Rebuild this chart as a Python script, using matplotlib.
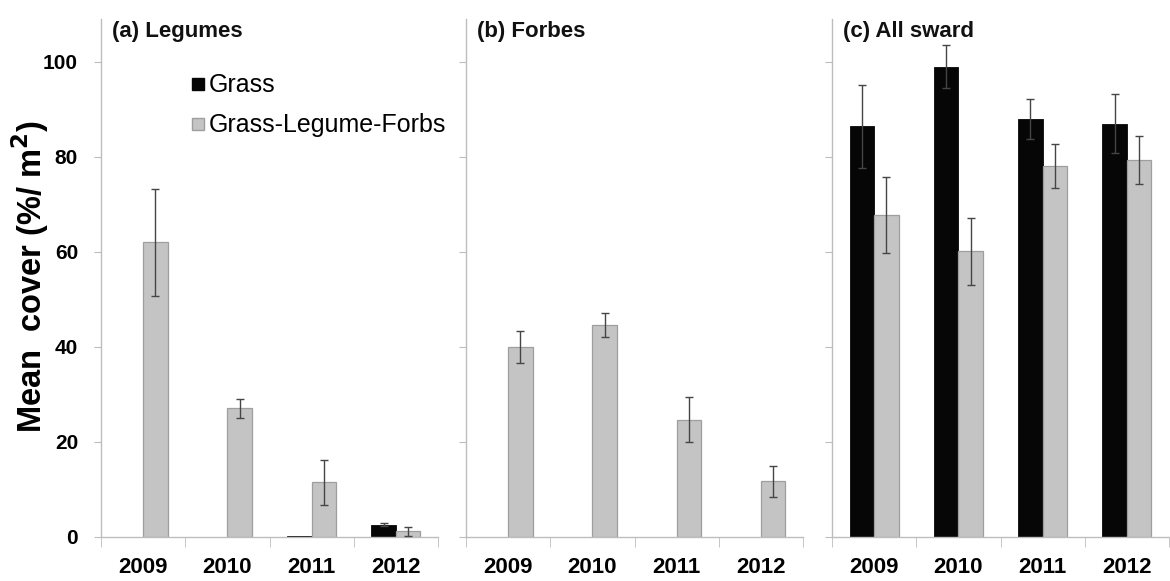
import matplotlib
matplotlib.use("Agg")
import matplotlib.pyplot as plt
from matplotlib.lines import Line2D
import numpy as np

plt.rcParams['font.family'] = ['Liberation Sans', 'DejaVu Sans']

years = ["2009", "2010", "2011", "2012"]
panel_titles = ["(a) Legumes", "(b) Forbes", "(c) All sward"]
series_names = ["Grass", "Grass-Legume-Forbs"]

# Legumes cover
legumes_grass = [0.0, 0.0, 0.3, 2.6]
legumes_grass_se = [0.0, 0.0, 0.0, 0.3]
legumes_mix = [62.0, 27.1, 11.5, 1.2]
legumes_mix_se = [11.3, 2.0, 4.8, 1.0]

# Forbs cover
forbs_grass = [0.0, 0.0, 0.0, 0.0]
forbs_grass_se = [0.0, 0.0, 0.0, 0.0]
forbs_mix = [40.0, 44.6, 24.7, 11.7]
forbs_mix_se = [3.3, 2.6, 4.7, 3.2]

# Whole sward cover
sward_grass = [86.4, 99.0, 88.0, 87.0]
sward_grass_se = [8.8, 4.5, 4.2, 6.2]
sward_mix = [67.7, 60.1, 78.1, 79.3]
sward_mix_se = [8.0, 7.0, 4.6, 5.0]

y_ticks = [0, 20, 40, 60, 80, 100]

panels = [
    (legumes_grass, legumes_grass_se, legumes_mix, legumes_mix_se),
    (forbs_grass, forbs_grass_se, forbs_mix, forbs_mix_se),
    (sward_grass, sward_grass_se, sward_mix, sward_mix_se),
]

W, H = 1170, 581
fig = plt.figure(figsize=(W / 100, H / 100), dpi=100)

lefts = [101, 466, 832]
ax_w = 337
ax_bottom_px = 537
ax_top_px = 19

grass_color = "#060606"
mix_color = "#c4c4c4"
mix_edge = "#9e9e9e"
spine_color = "#bdbdbd"
err_color = "#454545"

bw = 0.29
x = np.arange(len(years))

for i, (g, gse, m, mse) in enumerate(panels):
    ax = fig.add_axes([lefts[i] / W, 1 - ax_bottom_px / H, ax_w / W,
                       (ax_bottom_px - ax_top_px) / H])
    ax.bar(x - bw / 2, g, width=bw, color=grass_color, edgecolor=grass_color,
           linewidth=0.6, zorder=2)
    ax.bar(x + bw / 2, m, width=bw, color=mix_color, edgecolor=mix_edge,
           linewidth=0.9, zorder=2)
    for xs, vals, errs in ((x - bw / 2, g, gse), (x + bw / 2, m, mse)):
        for xi, v, e in zip(xs, vals, errs):
            if e > 0:
                ax.errorbar(xi, v, yerr=e, fmt="none", ecolor=err_color,
                            elinewidth=1.0, capsize=3, capthick=1.0, zorder=3)

    ax.set_xlim(-0.5, 3.5)
    ax.set_ylim(0, 109)
    for s in ("top", "right"):
        ax.spines[s].set_visible(False)
    for s in ("left", "bottom"):
        ax.spines[s].set_color(spine_color)
        ax.spines[s].set_linewidth(1.0)

    ax.set_xticks(x)
    ax.set_xticklabels(years, fontsize=16, fontweight="bold")
    ax.tick_params(axis="x", which="major", length=0, pad=14.4)
    ax.set_xticks([-0.5, 0.5, 1.5, 2.5, 3.5], minor=True)
    ax.tick_params(axis="x", which="minor", length=7, direction="out",
                   color=spine_color)

    ax.set_yticks(y_ticks)
    ax.tick_params(axis="y", length=5, direction="out", color=spine_color,
                   pad=11.5)
    if i == 0:
        ax.set_yticklabels([str(t) for t in y_ticks], fontsize=15,
                           fontweight="bold")
    else:
        ax.set_yticklabels([])

    ax.text(0.033, 0.996, panel_titles[i], transform=ax.transAxes,
            fontsize=16, fontweight="bold", ha="left", va="top",
            color="#111111")

    if i == 0:
        handles = [
            Line2D([], [], marker="s", linestyle="none", markersize=8.5,
                   markerfacecolor=grass_color, markeredgecolor=grass_color),
            Line2D([], [], marker="s", linestyle="none", markersize=8.5,
                   markerfacecolor=mix_color, markeredgecolor=mix_edge),
        ]
        ax.legend(handles, series_names, loc="upper left",
                  bbox_to_anchor=(0.2655, 0.895), frameon=False, fontsize=18,
                  handlelength=0.6, handletextpad=0.15, labelspacing=0.64,
                  borderpad=0, borderaxespad=0)

fig.text(30 / W, 1 - 276 / H, "Mean  cover (%/ m$^\\mathbf{2}$)",
         rotation=90, ha="center", va="center", fontsize=23.5,
         fontweight="bold")

fig.savefig("out.png", dpi=100, facecolor="white")
